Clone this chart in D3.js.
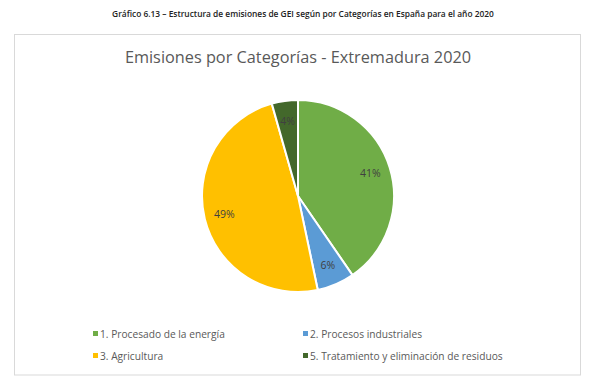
<!DOCTYPE html>
<html><head><meta charset="utf-8">
<script src="https://cdn.jsdelivr.net/npm/d3@7"></script>
<style>
body{margin:0;background:#fff;}
svg{display:block;font-family:"Open Sans","Lato",sans-serif;}
</style></head>
<body><svg id="c" width="600" height="391"></svg>
<script>
const categories = ["1. Procesado de la energía","2. Procesos industriales","3. Agricultura","5. Tratamiento y eliminación de residuos"];
const values = [40.4, 6.3, 48.9, 4.4];
const labels = ["41%","6%","49%","4%"];
const colors = ["#70ad47","#5b9bd5","#ffc000","#43682b"];

const svg = d3.select("#c");
svg.append("text").attr("x",303).attr("y",17).attr("text-anchor","middle")
  .attr("font-size","8.4px").attr("font-weight","600").attr("fill","#222")
  .text("Gráfico 6.13 – Estructura de emisiones de GEI según por Categorías en España para el año 2020");

svg.append("rect").attr("x",14.5).attr("y",34.5).attr("width",566).attr("height",340.5)
  .attr("fill","#fff").attr("stroke","#d9d9d9").attr("stroke-width",1);

svg.append("text").attr("x",298).attr("y",63).attr("text-anchor","middle")
  .attr("font-size","16.3px").attr("fill","#595959")
  .text("Emisiones por Categorías - Extremadura 2020");

const cx=298, cy=196, R=96;
const pie = d3.pie().sort(null).value(d=>d)(values);
const arc = d3.arc().innerRadius(0).outerRadius(R);
const g = svg.append("g").attr("transform",`translate(${cx},${cy})`);
g.selectAll("path").data(pie).join("path")
  .attr("d",arc).attr("fill",(d,i)=>colors[i]).attr("stroke","#fff").attr("stroke-width",2);
const larc = d3.arc().innerRadius(R*0.79).outerRadius(R*0.79);
g.selectAll("text").data(pie).join("text")
  .attr("transform",d=>`translate(${larc.centroid(d)})`)
  .attr("text-anchor","middle").attr("dy","0.35em")
  .attr("font-size","10.5px").attr("fill","#404040")
  .text((d,i)=>labels[i]);

const lx=[93,303], ly=[334,356];
const leg = svg.append("g");
categories.forEach((c,i)=>{
  const x=lx[i%2], y=ly[Math.floor(i/2)];
  leg.append("rect").attr("x",x).attr("y",y-3).attr("width",5).attr("height",5).attr("fill",colors[i]);
  leg.append("text").attr("x",x+7).attr("y",y).attr("dy","0.35em")
    .attr("font-size","10.2px").attr("fill","#595959").text(c);
});
</script></body></html>
